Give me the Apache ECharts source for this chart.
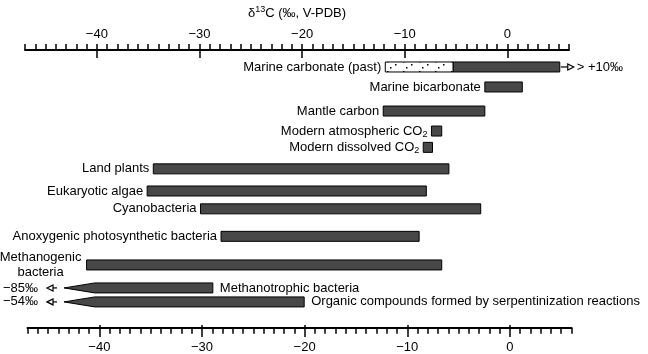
<!DOCTYPE html>
<html>
<head>
<meta charset="utf-8">
<script src="https://cdn.jsdelivr.net/npm/echarts@6/dist/echarts.min.js"></script>
<style>
  html, body { margin: 0; padding: 0; background: #fff; }
  #chart { width: 648px; height: 354px; }
</style>
</head>
<body>
<div id="chart"></div>
<script>
// carbon reservoirs, top to bottom
const groups = [
  'Marine carbonate (past)',
  'Marine bicarbonate',
  'Mantle carbon',
  'Modern atmospheric CO₂',
  'Modern dissolved CO₂',
  'Land plants',
  'Eukaryotic algae',
  'Cyanobacteria',
  'Anoxygenic photosynthetic bacteria',
  'Methanogenic\nbacteria',
  'Methanotrophic bacteria',
  'Organic compounds formed by serpentinization reactions'
];
// δ13C range (‰) shown on the scale
const lows  = [-5.3, -2.2, -12.1, -7.4, -8.2, -34.5, -35.1, -29.9, -27.9, -41, -43.2, -43.2];
const highs = [5.1, 1.45, -2.2, -6.4, -7.3, -5.7, -7.9, -2.6, -8.6, -6.4, -28.7, -19.8];
// dotted (past) part of the marine carbonate range
const pastLow = [-11.9, null, null, null, null, null, null, null, null, null, null, null];
// values that run off the scale
const extendsTo = [10, null, null, null, null, null, null, null, null, null, -85, -54];
// vertical slot of each row
const rowPos = [0, 0.93, 2.05, 2.98, 3.74, 4.74, 5.77, 6.6, 7.88, 9.21, 10.28, 10.93];
const tickLabels = [-40, -30, -20, -10, 0];

const chart = echarts.init(document.getElementById('chart'));
const ff = '"Liberation Sans", Arial, sans-serif';
const minus = v => (v < 0 ? '\u2212' + Math.abs(v) : String(v));

// dotted fill
const dots = document.createElement('canvas');
dots.width = 16; dots.height = 10;
const dctx = dots.getContext('2d');
dctx.fillStyle = '#fff';
dctx.fillRect(0, 0, 16, 10);
dctx.fillStyle = '#000';
dctx.fillRect(3, 1, 1.5, 1.5);
dctx.fillRect(11, 4, 1.5, 1.5);
dctx.fillRect(6, 7, 1.5, 1.5);
const dotPattern = { image: dots, repeat: 'repeat' };

function label(text, x, y, align) {
  return {
    type: 'text',
    style: {
      text: text.replace(/₂/g, '{s|2}'),
      x: x, y: y,
      align: align,
      verticalAlign: 'middle',
      font: '13px ' + ff,
      lineHeight: 15,
      fill: '#000',
      rich: { s: { font: '9px ' + ff, lineHeight: 14, padding: [7, 0, 0, 0] } }
    }
  };
}

function renderRow(params, api) {
  const i = params.dataIndex;
  const row = api.value(2);
  const lo = api.coord([api.value(0), row]);
  const hi = api.coord([api.value(1), row]);
  const y = lo[1], h = 10;
  const out = [];
  const barStyle = { fill: '#484848', stroke: '#000', lineWidth: 1 };
  const ext = extendsTo[i];

  if (ext != null && ext < lows[i]) {
    // tapered end, runs off the scale on the left
    const neck = api.coord([lows[i] + 3, row])[0];
    out.push({
      type: 'polygon',
      shape: { points: [[lo[0], y], [neck, y - h / 2], [hi[0], y - h / 2], [hi[0], y + h / 2], [neck, y + h / 2]] },
      style: barStyle
    });
    out.push({ type: 'line', shape: { x1: lo[0] - 7, y1: y, x2: lo[0] - 11, y2: y }, style: { stroke: '#000', lineWidth: 1.2 } });
    out.push({
      type: 'polygon',
      shape: { points: [[lo[0] - 17, y], [lo[0] - 11, y - 3], [lo[0] - 11, y + 3]] },
      style: { fill: '#fff', stroke: '#000', lineWidth: 1.2 }
    });
    out.push(label(minus(ext) + '‰', lo[0] - 26, y, 'right'));
    out.push(label(groups[i], hi[0] + 7, y, 'left'));
    return { type: 'group', children: out };
  }

  out.push({ type: 'rect', shape: { x: lo[0], y: y - h / 2, width: hi[0] - lo[0], height: h }, style: barStyle });
  let left = lo[0];
  if (pastLow[i] != null) {
    const p = api.coord([pastLow[i], row]);
    out.push({
      type: 'rect',
      shape: { x: p[0], y: y - h / 2, width: lo[0] - p[0], height: h },
      style: { fill: dotPattern, stroke: '#000', lineWidth: 1 }
    });
    left = p[0];
  }
  if (ext != null && ext > highs[i]) {
    out.push({ type: 'line', shape: { x1: hi[0] + 1, y1: y, x2: hi[0] + 8, y2: y }, style: { stroke: '#000', lineWidth: 1.2 } });
    out.push({
      type: 'polygon',
      shape: { points: [[hi[0] + 14, y], [hi[0] + 8, y - 3], [hi[0] + 8, y + 3]] },
      style: { fill: '#fff', stroke: '#000', lineWidth: 1.2 }
    });
    out.push(label('> +' + ext + '‰', hi[0] + 17, y, 'left'));
  }
  if (groups[i].indexOf('\n') >= 0) {
    out.push(label(groups[i], left - 46, y, 'center'));
  } else {
    out.push(label(groups[i], left - 4, y, 'right'));
  }
  return { type: 'group', children: out };
}

const gridTop = { left: 25, right: 79, top: 50, bottom: 26.3 };
const gridBottom = { left: 27.5, right: 76.5, top: 50, bottom: 26.3 };
const axisFont = { color: '#000', fontSize: 13, fontFamily: ff };

function minorAxis(gridIndex, position) {
  return {
    gridIndex: gridIndex, type: 'value', position: position,
    min: -47, max: 6, interval: 1,
    axisLine: { show: true, onZero: false, lineStyle: { color: '#000', width: 2 } },
    axisTick: { show: true, length: 6, lineStyle: { color: '#000', width: 1.5 } },
    axisLabel: { show: false },
    splitLine: { show: false }
  };
}
function majorAxis(gridIndex, position, margin) {
  return {
    gridIndex: gridIndex, type: 'value', position: position,
    min: -47, max: 6,
    axisLine: { show: false, onZero: false },
    axisTick: { show: true, length: 12, customValues: tickLabels, lineStyle: { color: '#000', width: 1.5 } },
    axisLabel: Object.assign({ show: true, margin: margin, customValues: tickLabels, formatter: minus }, axisFont),
    splitLine: { show: false }
  };
}

const topName = majorAxis(1, 'top', 17);
topName.name = '{n|δ}{sup|13}{n|C (‰, V-PDB)}';
topName.nameLocation = 'middle';
topName.nameGap = 38;
topName.nameTextStyle = {
  color: '#000', fontSize: 13, fontFamily: ff,
  rich: {
    n: { color: '#000', fontSize: 13, fontFamily: ff, lineHeight: 14 },
    sup: { color: '#000', fontSize: 9, fontFamily: ff, lineHeight: 14, padding: [0, 0, 7, 0] }
  }
};

const option = {
  animation: false,
  backgroundColor: '#fff',
  grid: [gridTop, gridTop, gridBottom, gridBottom],
  xAxis: [minorAxis(0, 'top'), topName, minorAxis(2, 'bottom'), majorAxis(3, 'bottom', 16)],
  yAxis: [
    { gridIndex: 0, type: 'value', min: -0.79, max: 12.13, inverse: true, show: false },
    { gridIndex: 1, type: 'value', show: false },
    { gridIndex: 2, type: 'value', show: false },
    { gridIndex: 3, type: 'value', show: false }
  ],
  series: [{
    type: 'custom',
    xAxisIndex: 0,
    yAxisIndex: 0,
    clip: false,
    silent: true,
    renderItem: renderRow,
    encode: { x: [0, 1], y: 2 },
    data: groups.map((g, i) => [lows[i], highs[i], rowPos[i]])
  }]
};
chart.setOption(option);
</script>
</body>
</html>
